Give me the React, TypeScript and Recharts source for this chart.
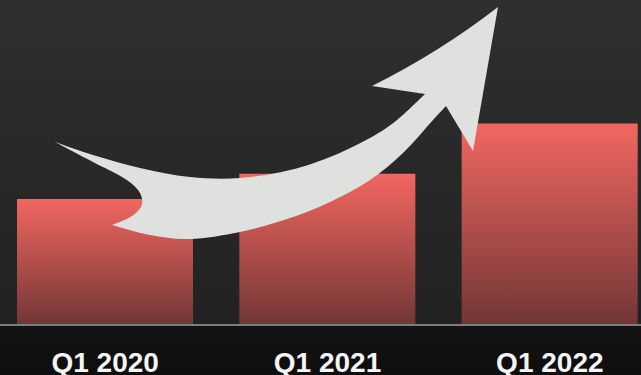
import React from 'react'
import { BarChart, Bar, XAxis, YAxis } from 'recharts'

const quarters = ['Q1 2020', 'Q1 2021', 'Q1 2022']
const revenue = [25, 30, 40]

const data = quarters.map((q, i) => ({ quarter: q, value: revenue[i] }))

// outline of the decorative growth arrow, in page pixels
const upperEdge: [number, number][] = [
  [55, 142], [93, 155], [140, 168], [190, 177], [240, 178],
  [290, 170], [330, 157], [370, 138], [397, 120], [425, 94]
]
const lowerEdge: [number, number][] = [
  [446, 106], [433, 120], [403, 153], [370, 180], [330, 202],
  [290, 218], [240, 232], [190, 239], [150, 235], [112, 225]
]
const tailNotch: [number, number][] = [
  [112, 225], [132, 216], [142, 204], [138, 190], [122, 177], [93, 162], [55, 142]
]

// catmull-rom through points, returned as bezier segments (no leading M)
function smooth(pts: [number, number][]) {
  let d = ''
  for (let i = 0; i < pts.length - 1; i++) {
    const p0 = pts[i - 1] || pts[i]
    const p1 = pts[i]
    const p2 = pts[i + 1]
    const p3 = pts[i + 2] || p2
    const c1 = [p1[0] + (p2[0] - p0[0]) / 6, p1[1] + (p2[1] - p0[1]) / 6]
    const c2 = [p2[0] - (p3[0] - p1[0]) / 6, p2[1] - (p3[1] - p1[1]) / 6]
    d += ` C ${c1[0]} ${c1[1]} ${c2[0]} ${c2[1]} ${p2[0]} ${p2[1]}`
  }
  return d
}

const arrowPath =
  `M ${upperEdge[0][0]} ${upperEdge[0][1]}` +
  smooth(upperEdge) +
  ' L 372 86 Q 440 52 498 7 L 473 151 L 446 106' +
  smooth(lowerEdge) +
  smooth(tailNotch) +
  ' Z'

const QuarterTick = ({ x, y, payload }: any) => (
  <text
    x={x}
    y={y}
    dy={47}
    textAnchor="middle"
    fill="#f5f5f5"
    fontFamily="'Liberation Sans', Arial, sans-serif"
    fontWeight="bold"
    fontSize={28}
  >
    {payload.value}
  </text>
)

export default function App() {
  return (
    <div
      style={{
        position: 'fixed',
        left: 0,
        top: 0,
        width: 641,
        height: 375,
        overflow: 'hidden',
        background:
          'linear-gradient(#2f2f2f 0px, #222222 324px, #141414 326px, #0e0e0e 375px)'
      }}
    >
      <div style={{ position: 'absolute', left: -6, top: 0 }}>
        <BarChart
          width={667}
          height={375}
          data={data}
          margin={{ top: 0, right: 0, bottom: 0, left: 0 }}
        >
          <defs>
            <linearGradient id="bar-red" x1="0" y1="0" x2="0" y2="1">
              <stop offset="0%" stopColor="#f26760" />
              <stop offset="100%" stopColor="#713636" />
            </linearGradient>
          </defs>
          <XAxis
            dataKey="quarter"
            height={50}
            tickSize={0}
            tickMargin={0}
            tickLine={false}
            axisLine={{ stroke: '#7c7c7c', strokeWidth: 2 }}
            tick={<QuarterTick />}
            interval={0}
          />
          <YAxis hide domain={[0, 64.5]} />
          <Bar
            dataKey="value"
            fill="url(#bar-red)"
            barSize={176}
            isAnimationActive={false}
          />
        </BarChart>
      </div>
      <svg
        width={641}
        height={375}
        style={{ position: 'absolute', left: 0, top: 0, pointerEvents: 'none' }}
      >
        <path d={arrowPath} fill="#dfe1de" />
      </svg>
    </div>
  )
}
